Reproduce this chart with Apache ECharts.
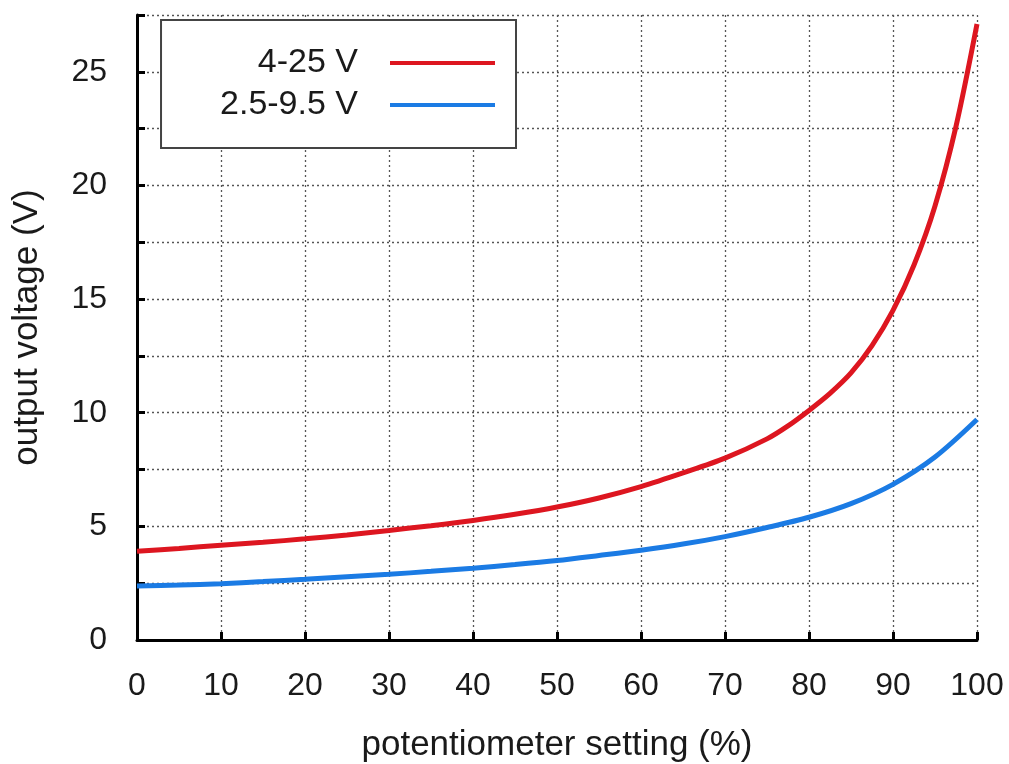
<!DOCTYPE html>
<html>
<head>
<meta charset="utf-8">
<script src="https://cdn.jsdelivr.net/npm/echarts@6/dist/echarts.min.js"></script>
<style>
  html, body { margin: 0; padding: 0; background: #fff; }
  #chart { width: 1009px; height: 764px; }
</style>
</head>
<body>
<div id="chart"></div>
<script>
// potentiometer setting (%) and output voltage
var setting = [0, 5, 10, 15, 20, 25, 30, 35, 40, 45, 50, 55, 60, 65, 70, 75, 77.5, 80, 82.5, 85, 87.5, 90, 92.5, 95, 97.5, 100];
var volts25 = [3.9, 4.03, 4.17, 4.3, 4.45, 4.62, 4.82, 5.03, 5.26, 5.53, 5.85, 6.25, 6.75, 7.35, 8.0, 8.85, 9.42, 10.1, 10.85, 11.75, 12.95, 14.5, 16.5, 19.1, 22.6, 27.1];
var settingLow = [0, 5, 10, 15, 20, 25, 30, 35, 40, 45, 50, 55, 60, 65, 70, 75, 80, 85, 90, 95, 100];
var volts95 = [2.38, 2.42, 2.48, 2.57, 2.67, 2.78, 2.89, 3.02, 3.16, 3.32, 3.5, 3.72, 3.95, 4.22, 4.55, 4.95, 5.4, 6.0, 6.85, 8.05, 9.7];
var seriesNames = ['4-25 V', '2.5-9.5 V'];

function pairs(xs, ys) {
  return xs.map(function (x, i) { return [x, ys[i]]; });
}

var myChart = echarts.init(document.getElementById('chart'));

var font = 'Liberation Sans, Arial, Helvetica, sans-serif';
// dotted grid like gnuplot
var gridLine = { show: true, lineStyle: { color: '#555', width: 1.3, type: [2, 3] } };

var option = {
  animation: false,
  backgroundColor: '#fff',
  grid: { left: 137, right: 32, top: 15, bottom: 124, outerBoundsMode: 'none' },
  legend: {
    orient: 'vertical',
    align: 'right',
    right: 493,
    top: 20,
    padding: [26, 21, 26, 59],
    itemGap: 8,
    itemWidth: 105,
    itemHeight: 4,
    icon: 'rect',
    backgroundColor: '#fff',
    borderColor: '#444',
    borderWidth: 2,
    textStyle: { fontFamily: font, fontSize: 34, color: '#1a1a1a', padding: [0, 27, 0, 0] },
    data: seriesNames
  },
  xAxis: {
    type: 'value',
    min: 0,
    max: 100,
    interval: 10,
    name: 'potentiometer setting (%)',
    nameLocation: 'middle',
    nameGap: 88,
    nameTextStyle: { fontFamily: font, fontSize: 35, color: '#1a1a1a' },
    axisLine: { lineStyle: { color: '#000', width: 3 } },
    axisTick: { inside: true, length: 8, lineStyle: { color: '#000', width: 3 } },
    axisLabel: { fontFamily: font, fontSize: 32, color: '#1a1a1a', margin: 30 },
    splitLine: gridLine
  },
  yAxis: {
    type: 'value',
    min: 0,
    max: 27.5,
    interval: 2.5,
    name: 'output voltage (V)',
    nameLocation: 'middle',
    nameGap: 92,
    nameTextStyle: { fontFamily: font, fontSize: 35, color: '#1a1a1a' },
    axisLine: { show: true, lineStyle: { color: '#000', width: 3 } },
    axisTick: { show: true, inside: true, length: 8, lineStyle: { color: '#000', width: 3 } },
    axisLabel: {
      fontFamily: font, fontSize: 32, color: '#1a1a1a', margin: 30,
      formatter: function (v) { return v % 5 === 0 ? String(v) : ''; }
    },
    splitLine: gridLine
  },
  series: [
    {
      name: seriesNames[0],
      type: 'line',
      data: pairs(setting, volts25),
      smooth: 0.3,
      showSymbol: false,
      color: '#dd1620',
      lineStyle: { width: 5, color: '#dd1620' }
    },
    {
      name: seriesNames[1],
      type: 'line',
      data: pairs(settingLow, volts95),
      smooth: 0.3,
      showSymbol: false,
      color: '#1b7be4',
      lineStyle: { width: 5, color: '#1b7be4' }
    }
  ]
};

myChart.setOption(option);
</script>
</body>
</html>
